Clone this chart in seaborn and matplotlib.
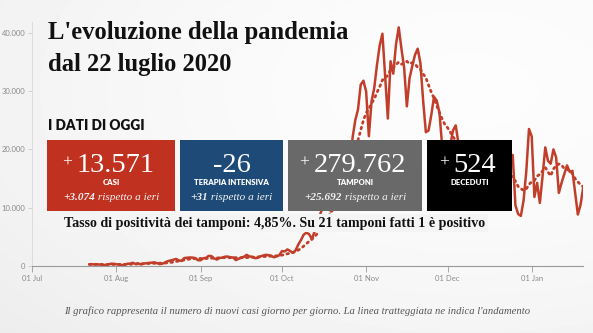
import numpy as np
import pandas as pd
import matplotlib
matplotlib.use("Agg")
import matplotlib.pyplot as plt
import seaborn as sns
from matplotlib.patches import Rectangle
import matplotlib.dates as mdates

# ---------------- data ----------------
start_date = "2020-07-22"
cases_jul = [280, 306, 252, 275, 255, 168, 181, 289, 386, 379]
cases_aug = [295, 239, 159, 190, 384, 402, 552, 347, 463, 259,
             412, 481, 523, 574, 629, 479, 320, 403, 642, 845,
             947, 1071, 1210, 953, 878, 1367, 1411, 1462, 1444, 1365, 996]
cases_sep = [978, 1326, 1397, 1733, 1695, 1297, 1108, 1370, 1434, 1597,
             1616, 1501, 1458, 1008, 1229, 1452, 1585, 1907, 1638, 1587,
             1350, 1392, 1640, 1786, 1912, 1869, 1766, 1494, 1648, 1851]
cases_oct = [2548, 2499, 2844, 2578, 2257, 2677, 3678, 4458, 5372, 5724,
             5456, 4619, 5901, 7332, 8804, 10010, 10925, 11705, 9338, 10874,
             15199, 16079, 19143, 19644, 21273, 17012, 21994, 24991, 26831, 31084, 31758]
cases_nov = [29907, 22253, 28244, 30550, 34505, 37809, 39811, 32616, 25271, 35098,
             32961, 37978, 40902, 37255, 33979, 27354, 32191, 34282, 36176, 37242,
             34767, 28337, 22930, 23232, 25853, 29003, 28352, 26323, 20648, 16377]
cases_dec = [19350, 20709, 23225, 24099, 21052, 18887, 13720, 14842, 12756, 16999,
             18727, 19903, 17938, 12030, 14844, 17572, 18236, 17992, 16308, 15104,
             11210, 13318, 14522, 18040, 19037, 10407, 8913, 8585, 11212, 16202, 23477]
cases_jan = [22211, 11831, 14245, 10800, 15378, 20331, 18020, 17533, 19978, 18627,
             12532, 14242, 15774, 17246, 16146, 16310, 12545, 8824, 10497, 13571]

y_ticks = [0, 10000, 20000, 30000, 40000]
y_tick_labels = ["0", "10.000", "20.000", "30.000", "40.000"]

kpi_signs = ["+", "-", "+", "+"]
kpi_values = ["13.571", "26", "279.762", "524"]
kpi_labels = ["CASI", "TERAPIA INTENSIVA", "TAMPONI", "DECEDUTI"]
kpi_deltas = ["+3.074", "+31", "+25.692", None]

title_lines = ["L'evoluzione della pandemia", "dal 22 luglio 2020"]
subtitle = "I DATI DI OGGI"
positivity = "Tasso di positività dei tamponi: 4,85%. Su 21 tamponi fatti 1 è positivo"
caption = ("Il grafico rappresenta il numero di nuovi casi giorno per giorno. "
           "La linea tratteggiata ne indica l'andamento")

cases = cases_jul + cases_aug + cases_sep + cases_oct + cases_nov + cases_dec + cases_jan
df = pd.DataFrame({
    "date": pd.date_range(start_date, periods=len(cases), freq="D"),
    "cases": cases,
})
df["trend"] = df["cases"].rolling(7, min_periods=1).mean()

# ---------------- figure ----------------
W, H = 593, 333
fig = plt.figure(figsize=(W / 100, H / 100), dpi=100)


def fx(x):
    return x / W


def fy(y):
    return 1 - y / H


# background gradient
bg = fig.add_axes([0, 0, 1, 1], zorder=-10)
bg.axis("off")
yy, xx = np.mgrid[0:H, 0:W]
d = np.hypot((xx - 470) / W, (yy - 90) / H)
v = 0.99 - 0.055 * d ** 1.6
bg.imshow(v, cmap="gray", vmin=0, vmax=1, extent=[0, 1, 0, 1], aspect="auto",
          origin="upper", interpolation="bilinear")
bg.set_xlim(0, 1)
bg.set_ylim(0, 1)

LINE = "#c13f2a"
ax = fig.add_axes([fx(32.3), fy(266), fx(583) - fx(32.3), fy(22.4) - fy(266)])
ax.patch.set_alpha(0)
sns.lineplot(data=df, x="date", y="cases", ax=ax, color=LINE, linewidth=1.8,
             solid_joinstyle="round", solid_capstyle="round")
sns.lineplot(data=df, x="date", y="trend", ax=ax, color=LINE, linewidth=2.0,
             linestyle=(0, (0.6, 1.5)), dash_capstyle="round")

ax.set_xlim(pd.Timestamp("2020-07-01"), pd.Timestamp("2020-07-01") + pd.Timedelta(days=202.9))
ax.set_ylim(0, 41750)
ax.set_yticks(y_ticks)
ax.set_yticklabels(y_tick_labels)
ax.xaxis.set_major_locator(mdates.MonthLocator())
ax.xaxis.set_major_formatter(mdates.DateFormatter("%d %b"))
ax.set_xlabel("")
ax.set_ylabel("")
for s in ["top", "right"]:
    ax.spines[s].set_visible(False)
ax.spines["left"].set_color("#dcdcdc")
ax.spines["left"].set_linewidth(0.7)
ax.spines["bottom"].set_color("#999999")
ax.spines["bottom"].set_linewidth(0.8)
ax.tick_params(axis="y", length=3, width=0.6, color="#cccccc", labelsize=5.5,
               labelcolor="#8a8a8a", pad=2)
ax.tick_params(axis="x", length=4, width=0.6, color="#999999", labelsize=5.5,
               labelcolor="#8a8a8a", pad=2.5)
for lab in ax.get_xticklabels() + ax.get_yticklabels():
    lab.set_family("Lato")

SERIF = "Liberation Serif"
SANS = "Lato"

# title
fig.text(fx(48), fy(39.5), title_lines[0], fontsize=17.7, fontweight="bold",
         family=SERIF, va="baseline", ha="left", color="#111111")
fig.text(fx(48), fy(71), title_lines[1], fontsize=17.7, fontweight="bold",
         family=SERIF, va="baseline", ha="left", color="#111111")

fig.text(fx(48), fy(130.5), subtitle, fontsize=9.8, fontweight="heavy",
         family=SANS, va="baseline", ha="left", color="#111111")

# KPI boxes
box_x = [(47.3, 175.0), (180.0, 283.3), (288.3, 421.7), (427.3, 512.3)]
box_colors = ["#c1311f", "#1d4a77", "#696969", "#000000"]
box_top, box_bot = 140, 211
for (x0, x1), c in zip(box_x, box_colors):
    fig.add_artist(Rectangle((fx(x0), fy(box_bot)), fx(x1) - fx(x0), fy(box_top) - fy(box_bot),
                             transform=fig.transFigure, facecolor=c, edgecolor="none", zorder=1))

renderer = fig.canvas.get_renderer()


def place_row(cx, pieces):
    """pieces: list of (text, baseline_y_px, kwargs). Centered horizontally at cx."""
    objs = []
    for s, yb, kw in pieces:
        t = fig.text(0, fy(yb), s, va="baseline", ha="left", zorder=4, **kw)
        objs.append(t)
    widths = [t.get_window_extent(renderer).width for t in objs]
    total = sum(widths)
    x = cx - total / 2
    for t, w in zip(objs, widths):
        t.set_x(fx(x))
        x += w
    return objs


for i, ((x0, x1), sign, val, lab, dl) in enumerate(zip(box_x, kpi_signs, kpi_values, kpi_labels, kpi_deltas)):
    cx = (x0 + x1) / 2
    if sign == "+":
        place_row(cx - 2, [(sign + "\u2009", 166.5, dict(fontsize=12.5, family=SERIF, color="white")),
                           (val, 171.7, dict(fontsize=20.5, family=SERIF, color="white"))])
    else:
        place_row(cx, [(sign + val, 171.7, dict(fontsize=20.5, family=SERIF, color="white"))])
    fig.text(fx(cx), fy(185.2), lab, fontsize=5.6, fontweight="heavy", family=SANS,
             color="white", ha="center", va="baseline", zorder=4)
    if dl is not None:
        place_row(cx, [(dl, 200.5, dict(fontsize=8.1, family=SERIF, style="italic",
                                          fontweight="bold", color="#f2f2f2")),
                       (" rispetto a ieri", 200.5, dict(fontsize=8.1, family=SERIF,
                                                        style="italic", color="#f2f2f2"))])

# positivity
fig.text(fx(64), fy(226.5), positivity, fontsize=10.1, fontweight="bold", family=SERIF,
         color="#111111", ha="left", va="baseline", zorder=3,
         bbox=dict(boxstyle="square,pad=0.2", fc="#f4f4f4", ec="none"))

# caption
fig.text(fx(297), fy(314.5), caption, fontsize=7.65, style="italic", family=SERIF,
         color="#555555", ha="center", va="baseline")

fig.savefig("out.png", dpi=100)
